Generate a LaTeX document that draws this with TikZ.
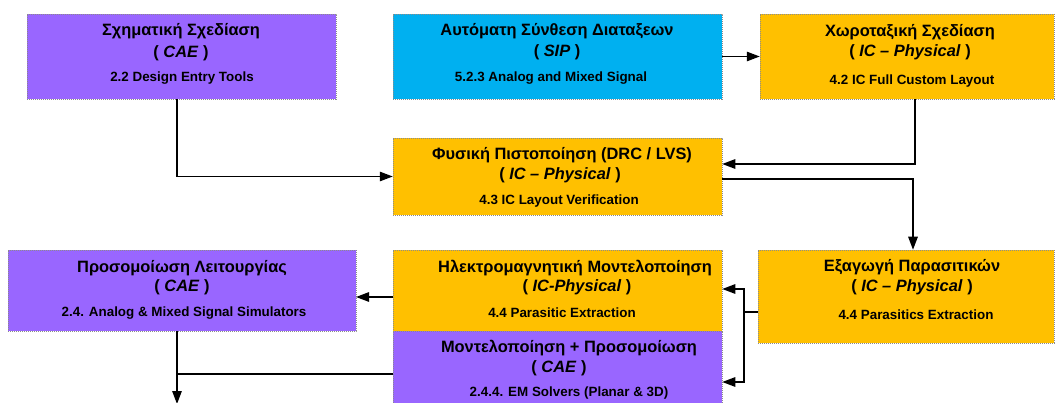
\documentclass[tikz,border=0pt]{standalone}
\usepackage{fontspec}
\setmainfont{Liberation Sans}
\usetikzlibrary{arrows.meta}
\definecolor{cpurple}{RGB}{153,102,255}
\definecolor{corange}{RGB}{255,192,0}
\definecolor{ccyan}{RGB}{0,176,240}
\begin{document}
\begin{tikzpicture}[x=1pt,y=-1pt,
 box/.style={draw=black!45, dash pattern=on 1.2pt off 0.8pt, line width=0.5pt, inner sep=0pt, rectangle},
 ttl/.style={font=\bfseries\fontsize{16.4}{19}\selectfont, inner sep=0pt},
 sub/.style={font=\bfseries\fontsize{13.4}{15}\selectfont, inner sep=0pt},
 conn/.style={line width=1.3pt, -{Triangle[length=13pt,width=9.5pt]}},
 plainline/.style={line width=1.3pt}]
\useasboundingbox (0,0) rectangle (1055,403);
\fill[white] (0,0) rectangle (1055,403);
% boxes
\node[box, fill=cpurple, minimum width=309pt, minimum height=85pt] (sch) at (181.5,56.5) {};
\node[box, fill=ccyan,   minimum width=329pt, minimum height=85pt] (sip) at (557.5,56.5) {};
\node[box, fill=corange, minimum width=294pt, minimum height=85pt] (lay) at (907,56.5) {};
\node[box, fill=corange, minimum width=329pt, minimum height=77pt] (drc) at (557.5,176.5) {};
\node[box, fill=cpurple, minimum width=348pt, minimum height=81pt] (sim) at (182,290.5) {};
\node[box, fill=corange, minimum width=329pt, minimum height=81pt] (emo) at (557.5,290.5) {};
\node[box, fill=cpurple, minimum width=329pt, minimum height=79pt] (emp) at (557.5,370.5) {};
\node[box, fill=corange, minimum width=296pt, minimum height=93pt] (par) at (906,296.5) {};
% texts
\node[ttl] (sch-t) at (181,31) {Σχηματική Σχεδίαση};
\node[ttl] (sch-c) at (181,53) {( \textit{CAE} )};
\node[sub] (sch-s) at (182,78) {2.2 Design Entry Tools};
\node[ttl] (sip-t) at (557,31) {Αυτόματη Σύνθεση Διαταξεων};
\node[ttl] (sip-c) at (557,52) {( \textit{SIP} )};
\node[sub] (sip-s) at (551,78) {5.2.3 Analog and Mixed Signal};
\node[ttl] (lay-t) at (910,32) {Χωροταξική Σχεδίαση};
\node[ttl] (lay-c) at (910,52) {( \textit{IC – Physical} )};
\node[sub] (lay-s) at (912,81) {4.2 IC Full Custom Layout};
\node[ttl] (drc-t) at (562,155) {Φυσική Πιστοποίηση (DRC / LVS)};
\node[ttl] (drc-c) at (560,175) {( \textit{IC – Physical} )};
\node[sub] (drc-s) at (559,201) {4.3 IC Layout Verification};
\node[ttl] (sim-t) at (182,268) {Προσομοίωση Λειτουργίας};
\node[ttl] (sim-c) at (182,287) {( \textit{CAE} )};
\node[sub] (sim-s) at (184,313) {2.4. Analog \& Mixed Signal Simulators};
\node[ttl] (emo-t) at (575,268) {Ηλεκτρομαγνητική Μοντελοποίηση};
\node[ttl] (emo-c) at (577,287) {( \textit{IC-Physical} )};
\node[sub] (emo-s) at (562,313) {4.4 Parasitic Extraction};
\node[ttl] (emp-t) at (569,348) {Μοντελοποίηση + Προσομοίωση};
\node[ttl] (emp-c) at (559,368) {( \textit{CAE} )};
\node[sub] (emp-s) at (569,393) {2.4.4. EM Solvers (Planar \& 3D)};
\node[ttl] (par-t) at (912,267) {Εξαγωγή Παρασιτικών};
\node[ttl] (par-c) at (912,287) {( \textit{IC – Physical} )};
\node[sub] (par-s) at (916,315) {4.4 Parasitics Extraction};
% connectors
\coordinate (j) at (744,312);
\coordinate (out) at (177,404);
\coordinate (simin) at (356,297);
\draw[conn] ([xshift=-4.5pt]sch.south) |- (drc.west);
\draw[conn] (sip.east) -- (lay.west);
\draw[conn] ([xshift=8pt]lay.south) |- ([yshift=12.5pt]drc.east);
\draw[conn] ([yshift=-2.5pt]drc.east) -| ([xshift=7pt]par.north);
\draw[plainline] ([yshift=-15.5pt]par.west) -- (j);
\draw[conn] (j) |- ([yshift=1.5pt]emo.east);
\draw[conn] (j) |- ([yshift=-11.5pt]emp.east);
\draw[conn] ([yshift=-6.5pt]emo.west) -- (simin);
\draw[conn] ([xshift=-5pt]sim.south) -- (out);
\draw[plainline] ([yshift=-3.5pt]emp.west) -- ([yshift=-3.5pt]emp.west -| out);
\end{tikzpicture}
\end{document}
